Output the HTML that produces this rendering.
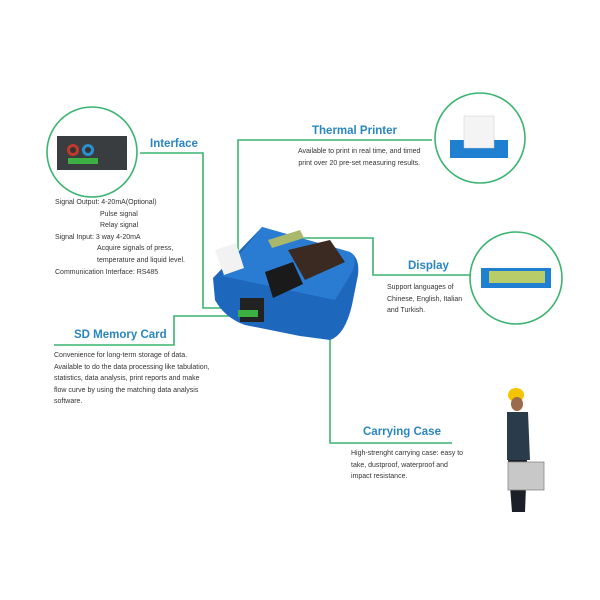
<!DOCTYPE html>
<html><head><style>
body{margin:0;background:#fff;}
.w{position:relative;width:600px;height:600px;font-family:"Liberation Sans",sans-serif;overflow:hidden;}
.t{position:absolute;color:#333;font-size:7px;line-height:11.5px;white-space:nowrap;}
.h{position:absolute;color:#2a86c0;font-weight:bold;font-size:11.5px;white-space:nowrap;}
</style></head><body><div class="w">
<svg width="600" height="600" style="position:absolute;left:0;top:0">
<g fill="none" stroke="#3cb371" stroke-width="1.6">
<polyline points="140,153 203,153 203,308 245,308"/>
<polyline points="432,140 238,140 238,253"/>
<polyline points="290,238 373,238 373,275 470,275"/>
<polyline points="54,345 174,345 174,316 245,316"/>
<polyline points="330,300 330,443 452,443"/>
</g>
<g fill="#fff" stroke="#3cb371" stroke-width="1.6">
<circle cx="92" cy="152" r="45"/>
<circle cx="480" cy="138" r="45"/>
<circle cx="516" cy="278" r="46"/>
</g>
<rect x="57" y="136" width="70" height="34" fill="#3a3d40"/>
<circle cx="73" cy="150" r="6" fill="#c0392b"/><circle cx="73" cy="150" r="3" fill="#333"/>
<circle cx="88" cy="150" r="6" fill="#2b8fd0"/><circle cx="88" cy="150" r="3" fill="#333"/>
<rect x="68" y="158" width="30" height="6" fill="#3cb043"/>
<rect x="450" y="140" width="58" height="18" fill="#1f7fd0"/>
<rect x="464" y="116" width="30" height="32" fill="#f4f4f4" stroke="#ccc" stroke-width=".5"/>
<rect x="481" y="268" width="70" height="20" fill="#1f7fd0"/>
<rect x="489" y="271" width="56" height="12" fill="#b8cc6a"/>
<!-- device -->
<path d="M262,227 L350,252 Q360,258 358,275 L352,305 Q345,335 330,340 L300,336 L245,325 Q225,318 215,300 L213,278 Z" fill="#1d68bd"/>
<path d="M262,227 L350,252 Q358,258 352,272 L335,300 L222,276 Z" fill="#2a7cd2"/>
<polygon points="215,250 236,243 244,268 224,275" fill="#f2f2f2"/>
<polygon points="268,240 300,230 304,238 272,248" fill="#a9b86a"/>
<polygon points="288,250 330,240 345,262 305,280" fill="#3a2a22"/>
<polygon points="265,272 293,262 303,284 273,298" fill="#1a1a1a"/>
<rect x="240" y="298" width="24" height="24" fill="#222"/>
<rect x="238" y="310" width="20" height="7" fill="#3cb043"/>
<ellipse cx="516" cy="395" rx="8" ry="7" fill="#f5c400"/>
<ellipse cx="517" cy="404" rx="6" ry="7" fill="#9a6b4c"/>
<polygon points="507,412 528,412 530,460 507,460" fill="#2a3b4a"/>
<polygon points="508,460 527,460 525,512 512,512" fill="#1a1f28"/>
<rect x="508" y="462" width="36" height="28" fill="#c8c8c8" stroke="#888" stroke-width=".8"/>
</svg>
<div class="h" style="left:150px;top:138px">Interface</div>
<div class="h" style="left:312px;top:125px">Thermal Printer</div>
<div class="h" style="left:408px;top:260px">Display</div>
<div class="h" style="left:74px;top:329px">SD Memory Card</div>
<div class="h" style="left:363px;top:426px">Carrying Case</div>
<div class="t" style="left:55px;top:197px">Signal Output: 4-20mA(Optional)<br><span style="padding-left:45px">Pulse signal</span><br><span style="padding-left:45px">Relay signal</span><br>Signal Input: 3 way 4-20mA<br><span style="padding-left:42px">Acquire signals of press,</span><br><span style="padding-left:42px">temperature and liquid level.</span></div>
<div class="t" style="left:55px;top:267px">Communication Interface: RS485</div>
<div class="t" style="left:298px;top:146px;text-align:center">Available to print in real time, and timed<br>print over 20 pre-set measuring results.</div>
<div class="t" style="left:387px;top:282px">Support languages of<br>Chinese, English, Italian<br>and Turkish.</div>
<div class="t" style="left:54px;top:350px">Convenience for long-term storage of data.<br>Available to do the data processing like tabulation,<br>statistics, data analysis, print reports and make<br>flow curve by using the matching data analysis<br>software.</div>
<div class="t" style="left:351px;top:448px">High-strenght carrying case: easy to<br>take, dustproof, waterproof and<br>impact resistance.</div>
</div></body></html>
